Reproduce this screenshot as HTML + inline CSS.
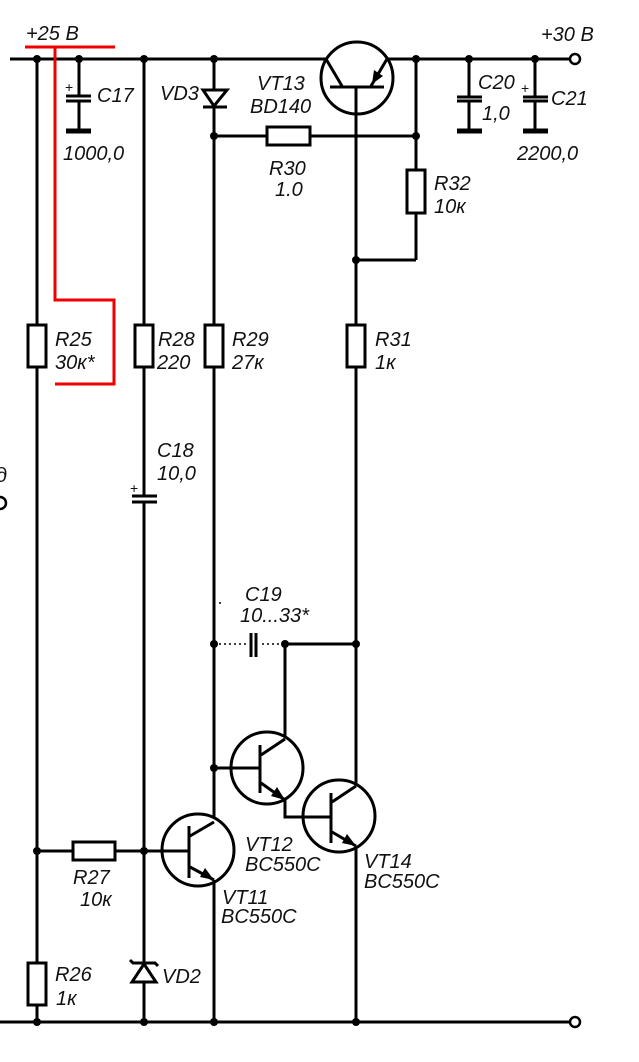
<!DOCTYPE html>
<html><head><meta charset="utf-8"><style>
html,body{margin:0;padding:0;background:#fff;}
svg{display:block;}
text{font-family:"Liberation Sans",sans-serif;font-style:italic;font-size:20px;fill:#111;}
</style></head><body>
<svg width="639" height="1062" viewBox="0 0 639 1062" xmlns="http://www.w3.org/2000/svg">
<g stroke="#000" stroke-width="3" fill="none">
<line x1="10" y1="59" x2="570" y2="59"/>
<line x1="0" y1="1022" x2="570" y2="1022"/>
<circle cx="575" cy="59" r="5" stroke-width="2.5" fill="#fff"/>
<circle cx="575" cy="1022" r="5" stroke-width="2.5" fill="#fff"/>
<circle cx="0" cy="503" r="6" stroke-width="2.5"/>
<line x1="37" y1="59" x2="37" y2="1022"/>
<rect x="28" y="325" width="18" height="42" fill="#fff"/>
<rect x="28" y="963" width="18" height="42" fill="#fff"/>
<line x1="79" y1="59" x2="79" y2="96"/>
<line x1="66" y1="96" x2="91" y2="96"/>
<line x1="66" y1="101" x2="91" y2="101"/>
<line x1="79" y1="101" x2="79" y2="130"/>
<line x1="66" y1="131" x2="91" y2="131" stroke-width="5"/>
<line x1="144" y1="59" x2="144" y2="496"/>
<rect x="135" y="325" width="18" height="42" fill="#fff"/>
<line x1="132" y1="496" x2="157" y2="496"/>
<line x1="132" y1="502" x2="157" y2="502"/>
<line x1="144" y1="502" x2="144" y2="1022"/>
<path d="M132 982 L156 982 L144 964 Z" fill="#fff"/>
<path d="M130 960 L133 963 L155 963 L158 966"/>
<line x1="37" y1="851" x2="189" y2="851"/>
<rect x="73" y="842" width="42" height="18" fill="#fff"/>
<line x1="214" y1="59" x2="214" y2="822"/>
<path d="M203 90 L227 90 L214 106 Z" fill="#fff"/>
<line x1="203" y1="107" x2="227" y2="107"/>
<rect x="205" y="325" width="18" height="42" fill="#fff"/>
<line x1="214" y1="136" x2="416" y2="136"/>
<rect x="267" y="127" width="43" height="18" fill="#fff"/>
<line x1="416" y1="59" x2="416" y2="260"/>
<rect x="407" y="170" width="18" height="43" fill="#fff"/>
<line x1="356" y1="260" x2="416" y2="260"/>
<circle cx="357" cy="78" r="36" fill="#fff"/>
<line x1="330" y1="87" x2="384" y2="87"/>
<line x1="326" y1="59" x2="342" y2="86"/>
<line x1="371" y1="86" x2="387" y2="59"/>
<line x1="356" y1="87" x2="356" y2="1022"/>
<rect x="347" y="325" width="18" height="42" fill="#fff"/>
<line x1="469" y1="59" x2="469" y2="97"/>
<line x1="457" y1="97" x2="482" y2="97"/>
<line x1="457" y1="101" x2="482" y2="101"/>
<line x1="469" y1="101" x2="469" y2="130"/>
<line x1="457" y1="131" x2="482" y2="131" stroke-width="5"/>
<line x1="535" y1="59" x2="535" y2="97"/>
<line x1="523" y1="97" x2="548" y2="97"/>
<line x1="523" y1="101" x2="548" y2="101"/>
<line x1="535" y1="101" x2="535" y2="130"/>
<line x1="523" y1="131" x2="548" y2="131" stroke-width="5"/>
<line x1="214" y1="644" x2="246" y2="644" stroke-width="1.5" stroke-dasharray="2,3"/>
<line x1="262" y1="644" x2="285" y2="644" stroke-width="1.5" stroke-dasharray="2,3"/>
<line x1="251" y1="633" x2="251" y2="657"/>
<line x1="256" y1="633" x2="256" y2="657"/>
<line x1="285" y1="644" x2="356" y2="644"/>
<line x1="285" y1="644" x2="285" y2="738"/>
<circle cx="267" cy="768" r="36" fill="#fff"/>
<line x1="214" y1="768" x2="260" y2="768"/>
<line x1="260" y1="745" x2="260" y2="793"/>
<line x1="261" y1="755" x2="285" y2="739"/>
<line x1="261" y1="783" x2="285" y2="800"/>
<path d="M285 800 L285 817 L331 817"/>
<circle cx="339" cy="816" r="36" fill="#fff"/>
<line x1="303" y1="817" x2="331" y2="817"/>
<line x1="331" y1="793" x2="331" y2="843"/>
<line x1="332" y1="802" x2="356" y2="786"/>
<line x1="332" y1="832" x2="356" y2="846"/>
<circle cx="198" cy="850" r="36" fill="#fff"/>
<line x1="162" y1="851" x2="189" y2="851"/>
<line x1="189" y1="826" x2="189" y2="878"/>
<line x1="190" y1="836" x2="214" y2="822"/>
<line x1="190" y1="867" x2="214" y2="880"/>
<line x1="214" y1="880" x2="214" y2="1022"/>
</g>
<g fill="#000">
<path d="M372 84 L374 70 L383 76 Z"/>
<path d="M285 800 L271 796 L277 787 Z"/>
<path d="M356 846 L342 843 L347 834 Z"/>
<path d="M214 880 L200 877 L205 868 Z"/>
</g>
<g fill="#000">
<circle cx="37" cy="59" r="4"/><circle cx="79" cy="59" r="4"/><circle cx="144" cy="59" r="4"/><circle cx="214" cy="59" r="4"/>
<circle cx="416" cy="59" r="4"/><circle cx="469" cy="59" r="4"/><circle cx="535" cy="59" r="4"/>
<circle cx="214" cy="136" r="4"/><circle cx="416" cy="136" r="4"/><circle cx="356" cy="260" r="4"/>
<circle cx="214" cy="644" r="4"/><circle cx="285" cy="644" r="4"/><circle cx="356" cy="644" r="4"/>
<circle cx="214" cy="768" r="4"/><circle cx="37" cy="851" r="4"/><circle cx="144" cy="851" r="4"/>
<circle cx="37" cy="1022" r="4"/><circle cx="144" cy="1022" r="4"/><circle cx="214" cy="1022" r="4"/><circle cx="356" cy="1022" r="4"/>
<circle cx="220" cy="603" r="1"/>
</g>
<g stroke="#e00" stroke-width="3" fill="none">
<line x1="25" y1="47" x2="115" y2="47"/>
<path d="M55 47 L55 300 L114 300 L114 384 L55 384"/>
</g>
<text x="65" y="92" style="font-size:14px;font-style:normal">+</text>
<text x="521" y="93" style="font-size:14px;font-style:normal">+</text>
<text x="130" y="493" style="font-size:14px;font-style:normal">+</text>
<text x="26" y="40">+25 В</text>
<text x="541" y="41">+30 В</text>
<text x="97" y="102">C17</text>
<text x="63" y="160">1000,0</text>
<text x="160" y="100">VD3</text>
<text x="257" y="90">VT13</text>
<text x="250" y="113">BD140</text>
<text x="269" y="175">R30</text>
<text x="275" y="196">1.0</text>
<text x="434" y="190">R32</text>
<text x="434" y="213">10к</text>
<text x="478" y="89">C20</text>
<text x="482" y="120">1,0</text>
<text x="551" y="105">C21</text>
<text x="517" y="160">2200,0</text>
<text x="55" y="346">R25</text>
<text x="55" y="369">30к*</text>
<text x="158" y="346">R28</text>
<text x="157" y="369">220</text>
<text x="232" y="346">R29</text>
<text x="232" y="369">27к</text>
<text x="375" y="346">R31</text>
<text x="375" y="369">1к</text>
<text x="157" y="457">C18</text>
<text x="157" y="480">10,0</text>
<text x="-4" y="482">д</text>
<text x="245" y="601">C19</text>
<text x="240" y="622">10...33*</text>
<text x="245" y="851">VT12</text>
<text x="245" y="871">BC550C</text>
<text x="364" y="868">VT14</text>
<text x="364" y="888">BC550C</text>
<text x="222" y="904">VT11</text>
<text x="221" y="923">BC550C</text>
<text x="73" y="884">R27</text>
<text x="80" y="906">10к</text>
<text x="55" y="981">R26</text>
<text x="56" y="1005">1к</text>
<text x="162" y="983">VD2</text>
</svg>
</body></html>
